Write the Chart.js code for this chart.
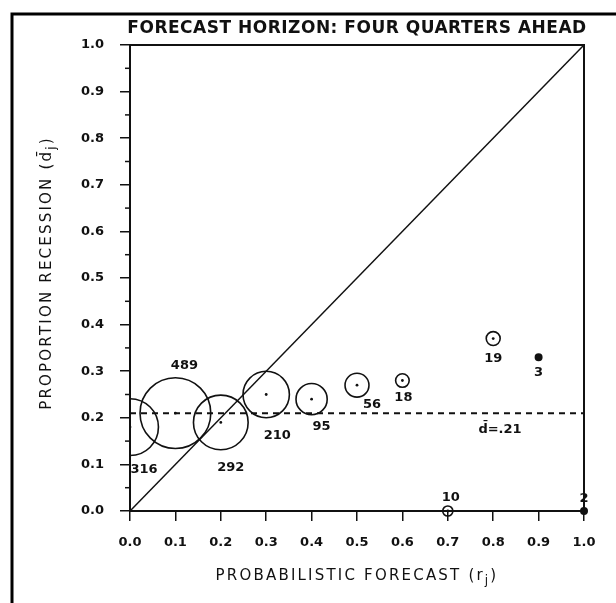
<!DOCTYPE html>
<html>
<head>
<meta charset="utf-8">
<script src="https://cdn.jsdelivr.net/npm/chart.js@4/dist/chart.umd.min.js"></script>
<style>
  html, body { margin: 0; padding: 0; background: #fff; }
  #wrap { position: relative; width: 616px; height: 603px; }
</style>
</head>
<body>
<div id="wrap"><canvas id="chart" width="616" height="603"></canvas></div>
<script>
// Forecast probability bins, observed recession share in each bin, and bin counts
const forecastBins = [0.0, 0.1, 0.2, 0.3, 0.4, 0.5, 0.6, 0.7, 0.8, 0.9, 1.0];
const proportionRecession = [0.18, 0.21, 0.19, 0.25, 0.24, 0.27, 0.28, 0.0, 0.37, 0.33, 0.0];
const forecastCounts = [316, 489, 292, 210, 95, 56, 18, 10, 19, 3, 2];
// Unconditional recession frequency
const overallRate = 0.21;
// Axis tick labels
const xTickLabels = ['0.0', '0.1', '0.2', '0.3', '0.4', '0.5', '0.6', '0.7', '0.8', '0.9', '1.0'];
const yTickLabels = ['0.0', '0.1', '0.2', '0.3', '0.4', '0.5', '0.6', '0.7', '0.8', '0.9', '1.0'];

// Placement of each count label relative to its circle (side, sideways shift, gap from the edge)
const countLabelSide = ['below', 'above', 'below', 'below', 'below', 'below', 'below', 'above', 'below', 'below', 'above'];
const countLabelDx = [14, 9, 10, 11, 10, 15, 1, 3, 0, 0, 0];
const countLabelGap = [14, 12, 18, 18, 12, 7, 10, 8, 13, 12, 9];

const INK = '#111';
const TEXT_FONT = '"DejaVu Sans", sans-serif';

const points = forecastBins.map((x, i) => ({ x, y: proportionRecession[i], n: forecastCounts[i] }));
const circleRadius = n => 1.6 * Math.sqrt(n);
const isSolid = n => circleRadius(n) < 3.5;

// Draw text with optional subscript segments, centred on (0,0) of the current transform
function drawRich(ctx, segments, font, subFont, spacing) {
  ctx.save();
  ctx.letterSpacing = spacing + 'px';
  let total = 0;
  const widths = segments.map(s => {
    ctx.font = s.sub ? subFont : font;
    const w = ctx.measureText(s.t).width;
    total += w;
    return w;
  });
  let x = -total / 2;
  ctx.textBaseline = 'middle';
  ctx.textAlign = 'left';
  segments.forEach((s, i) => {
    ctx.font = s.sub ? subFont : font;
    ctx.fillText(s.t, x, s.sub ? 5 : 0);
    x += widths[i];
  });
  ctx.restore();
}

const decorations = {
  id: 'decorations',
  afterDraw(chart) {
    const { ctx, chartArea: a, scales: { x, y } } = chart;
    ctx.save();
    ctx.strokeStyle = INK;
    ctx.fillStyle = INK;

    // frame: top and right sides of the plot box
    ctx.lineWidth = 2;
    ctx.beginPath();
    ctx.moveTo(a.left, a.top);
    ctx.lineTo(a.right, a.top);
    ctx.lineTo(a.right, a.bottom);
    ctx.stroke();

    // minor ticks on the y axis
    ctx.lineWidth = 1.5;
    for (let i = 0; i < yTickLabels.length - 1; i++) {
      const v = (parseFloat(yTickLabels[i]) + parseFloat(yTickLabels[i + 1])) / 2;
      const py = y.getPixelForValue(v);
      ctx.beginPath();
      ctx.moveTo(a.left - 5, py);
      ctx.lineTo(a.left, py);
      ctx.stroke();
    }

    // count labels next to each circle
    ctx.font = 'bold 13px ' + TEXT_FONT;
    ctx.textAlign = 'center';
    ctx.textBaseline = 'middle';
    points.forEach((p, i) => {
      const px = x.getPixelForValue(p.x);
      const py = y.getPixelForValue(p.y);
      const r = Math.max(circleRadius(p.n), 3.5);
      const off = r + countLabelGap[i];
      const ly = countLabelSide[i] === 'above' ? py - off : py + off;
      ctx.fillText(String(p.n), px + countLabelDx[i], ly);
    });

    // label for the unconditional rate line
    const lx = x.getPixelForValue(0.815);
    const ly = y.getPixelForValue(overallRate) + 16;
    ctx.font = 'bold 13px ' + TEXT_FONT;
    ctx.fillText('d\u0304=' + overallRate.toFixed(2).replace(/^0/, ''), lx, ly);

    // chart title
    ctx.font = 'bold 17px ' + TEXT_FONT;
    ctx.letterSpacing = '0.5px';
    ctx.textBaseline = 'middle';
    ctx.fillText('FORECAST HORIZON: FOUR QUARTERS AHEAD', (a.left + a.right) / 2, 29);
    ctx.letterSpacing = '0px';

    // axis titles
    const titleFont = '15px ' + TEXT_FONT;
    const subFont = '12px ' + TEXT_FONT;
    ctx.save();
    ctx.translate((a.left + a.right) / 2, 576);
    drawRich(ctx, [{ t: 'PROBABILISTIC FORECAST (r' }, { t: 'j', sub: true }, { t: ')' }], titleFont, subFont, 2.2);
    ctx.restore();
    ctx.save();
    ctx.translate(47, 273);
    ctx.rotate(-Math.PI / 2);
    drawRich(ctx, [{ t: 'PROPORTION RECESSION (d\u0304' }, { t: 'j', sub: true }, { t: ')' }], titleFont, subFont, 2.2);
    ctx.restore();

    // outer page frame
    ctx.lineWidth = 3;
    ctx.strokeStyle = '#000';
    ctx.beginPath();
    ctx.moveTo(12, 603);
    ctx.lineTo(12, 14);
    ctx.lineTo(616, 14);
    ctx.stroke();
    ctx.restore();
  }
};

new Chart(document.getElementById('chart'), {
  type: 'scatter',
  data: {
    datasets: [
      {
        label: 'perfect calibration',
        data: [{ x: 0, y: 0 }, { x: 1, y: 1 }],
        showLine: true,
        borderColor: INK,
        borderWidth: 1.5,
        pointRadius: 0
      },
      {
        label: 'unconditional rate',
        data: [{ x: 0, y: overallRate }, { x: 1, y: overallRate }],
        showLine: true,
        borderColor: INK,
        borderWidth: 2,
        borderDash: [6, 5],
        pointRadius: 0
      },
      {
        label: 'bins',
        data: points,
        clip: { left: 0, top: 10, right: 10, bottom: 10 },
        pointRadius: ctx => Math.max(circleRadius(ctx.raw.n), isSolid(ctx.raw.n) ? 3.2 : 0),
        pointBorderWidth: 1.6,
        pointBorderColor: INK,
        pointBackgroundColor: ctx => isSolid(ctx.raw.n) ? INK : 'rgba(0,0,0,0)'
      },
      {
        label: 'bin centres',
        data: points,
        clip: { left: 0, top: 10, right: 10, bottom: 10 },
        pointRadius: 1.4,
        pointBorderWidth: 0,
        pointBackgroundColor: INK
      }
    ]
  },
  options: {
    responsive: false,
    animation: false,
    events: [],
    layout: { autoPadding: false, padding: { top: 45, right: 32, left: 0, bottom: 0 } },
    plugins: { legend: { display: false }, tooltip: { enabled: false }, title: { display: false } },
    scales: {
      x: {
        type: 'linear',
        min: 0,
        max: 1,
        afterBuildTicks: s => { s.ticks = xTickLabels.map(t => ({ value: parseFloat(t) })); },
        afterFit: s => { s.height = 92; s.paddingLeft = 0; s.paddingRight = 0; },
        ticks: {
          callback: (v, i) => xTickLabels[i],
          color: INK,
          font: { family: TEXT_FONT, size: 13, weight: 'bold' },
          padding: 14,
          maxRotation: 0
        },
        grid: { drawOnChartArea: false, drawTicks: true, tickLength: 10, color: INK, lineWidth: 1.5 },
        border: { display: true, color: INK, width: 2 }
      },
      y: {
        type: 'linear',
        min: 0,
        max: 1,
        afterBuildTicks: s => { s.ticks = yTickLabels.map(t => ({ value: parseFloat(t) })); },
        afterFit: s => { s.width = 130; s.paddingTop = 0; s.paddingBottom = 0; },
        ticks: {
          callback: (v, i) => yTickLabels[i],
          color: INK,
          font: { family: TEXT_FONT, size: 13, weight: 'bold' },
          padding: 16
        },
        grid: { drawOnChartArea: false, drawTicks: true, tickLength: 10, color: INK, lineWidth: 1.5 },
        border: { display: true, color: INK, width: 2 }
      }
    }
  },
  plugins: [decorations]
});
</script>
</body>
</html>
